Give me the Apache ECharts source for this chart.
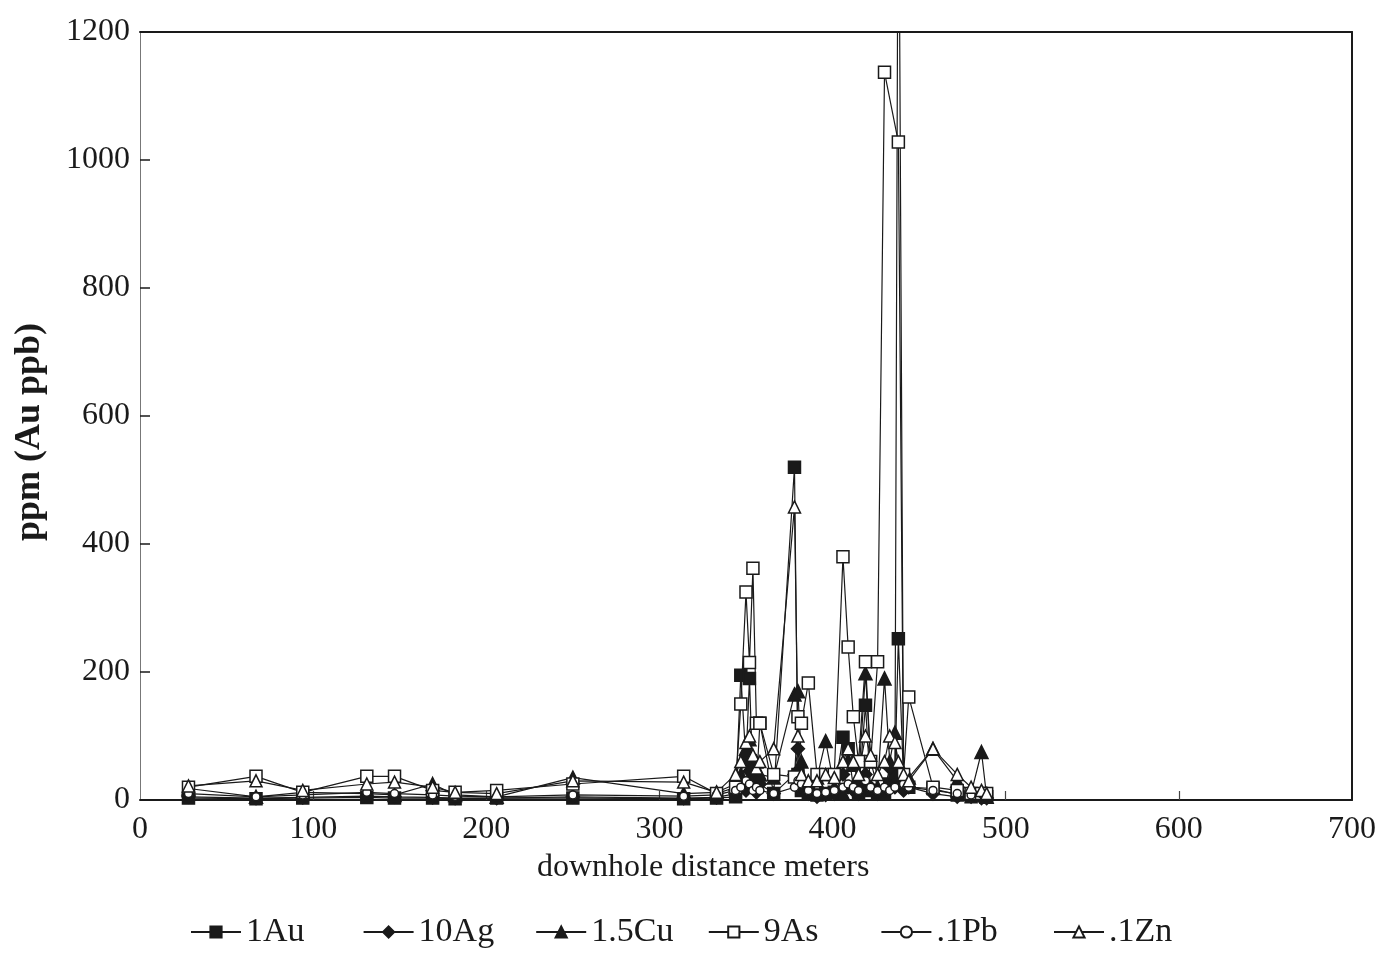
<!DOCTYPE html>
<html>
<head>
<meta charset="utf-8">
<script src="https://cdn.jsdelivr.net/npm/echarts@6/dist/echarts.min.js"></script>
<style>
  html, body { margin: 0; padding: 0; background: #ffffff; }
  #chart { width: 1380px; height: 953px; }
</style>
</head>
<body>
<div id="chart"></div>
<script>
// Downhole sample depths (m) shared by all assays
const depth = [28, 67, 94, 131, 147, 169, 182, 206, 250, 314, 333, 344, 347, 350, 352, 354, 356, 358, 366, 378, 380, 382, 386, 391, 396, 401, 406, 409, 412, 415, 419, 422, 426, 430, 433, 436, 438, 441, 444, 458, 472, 480, 486, 489];

// Scaled assay values (null = no sample for that element)
const au = [3, 2, 3, 4, 3, 3, 2, 3, 3, 2, 3, 5, 195, 60, 190, 30, 20, 120, 10, 520, 40, 15, 10, 8, 10, 12, 98, 80, 20, 10, 148, 15, 10, 12, 25, 40, 252, 30, 20, 18, 8, 5, 8, 5];
const ag = [5, 3, 4, 6, 5, 4, 3, 3, 5, 3, 4, 10, 30, 15, 45, 20, 12, 25, 10, 40, 80, 20, 10, 5, 8, 10, 40, 20, 15, 10, 40, 20, 10, 15, 50, 20, 30, 15, 20, 10, 5, 5, 3, 3];
const cu = [18, 5, 12, 10, 8, 25, 8, 5, 35, 10, 12, 25, 40, 80, 95, 30, 60, 40, 35, 165, 170, 60, 20, 35, 92, 20, 10, 62, 55, 30, 198, 60, 20, 190, 60, 105, 40, 30, 35, 80, 30, 10, 75, 5];
const as = [20, 37, 12, 37, 37, 15, 12, 15, 25, 37, 10, 20, 150, 325, 215, 362, 120, 120, 40, 36, 130, 120, 183, 40, 40, 40, 380, 239, 130, 60, 216, 60, 216, 1137, null, null, 1028, 40, 161, 20, 15, 10, 10, 10];
const pb = [10, 5, 8, 12, 10, 8, 6, 5, 8, 6, 8, 15, 20, 30, 25, 15, 20, 15, 10, 20, 30, 25, 15, 10, 12, 15, 20, 25, 20, 15, 30, 20, 15, 20, 15, 20, 1600, 25, 20, 15, 10, 8, 10, 5];
const zn = [22, 30, 15, 25, 28, 20, 12, 10, 30, 28, 12, 40, 60, 90, 100, 70, 50, 60, 80, 458, 100, 40, 30, 30, 40, 35, 60, 80, 60, 40, 100, 70, 40, 60, 100, 90, 60, 40, 30, 80, 40, 20, 15, 10];

const xTicks = [0, 100, 200, 300, 400, 500, 600, 700];
const yTicks = [0, 200, 400, 600, 800, 1000, 1200];
const legendNames = ['1Au', '10Ag', '1.5Cu', '9As', '.1Pb', '.1Zn'];

const serif = '"Liberation Serif", "DejaVu Serif", serif';
const ink = '#1a1a1a';

function pairs(vals) {
  return depth.map((d, i) => [d, vals[i]]);
}

function mkSeries(name, vals, symbol, filled, size) {
  return {
    name: name,
    type: 'line',
    data: pairs(vals),
    connectNulls: true,
    clip: true,
    symbol: symbol,
    symbolSize: size,
    showAllSymbol: true,
    lineStyle: { color: ink, width: 1.2 },
    itemStyle: {
      color: filled ? ink : '#ffffff',
      borderColor: ink,
      borderWidth: 1.5
    },
    emphasis: { disabled: true },
    animation: false
  };
}

// one legend block per element, evenly spaced along the bottom
const legendSlot = 172.6;
const legends = legendNames.map((name, i) => ({
  left: 185 + i * legendSlot,
  top: 910,
  itemWidth: 50,
  itemHeight: 14,
  itemGap: 0,
  selectedMode: false,
  textStyle: { color: ink, fontFamily: serif, fontSize: 34, padding: [0, 0, 0, 0] },
  data: [name]
}));

const chart = echarts.init(document.getElementById('chart'), null, { renderer: 'canvas' });

chart.setOption({
  backgroundColor: '#ffffff',
  animation: false,
  grid: { left: 140, right: 28, top: 32, bottom: 153, containLabel: false },
  xAxis: [
    {
      type: 'value', min: 0, max: 700, interval: 100,
      axisLine: { show: true, lineStyle: { color: ink, width: 2 } },
      axisTick: { show: true, inside: true, length: 9, lineStyle: { color: '#444', width: 1.2 },
                  customValues: xTicks.slice(1, -1) },
      axisLabel: { color: ink, fontFamily: serif, fontSize: 32, margin: 14,
                   customValues: xTicks, formatter: v => String(v) },
      splitLine: { show: false }
    },
    {
      type: 'value', min: 0, max: 700, position: 'top',
      axisLine: { show: true, onZero: false, lineStyle: { color: ink, width: 2 } },
      axisTick: { show: false }, axisLabel: { show: false }, splitLine: { show: false }
    }
  ],
  yAxis: [
    {
      type: 'value', min: 0, max: 1200, interval: 200,
      axisLine: { show: true, lineStyle: { color: '#777', width: 1 } },
      axisTick: { show: true, inside: true, length: 10, lineStyle: { color: ink, width: 1.5 },
                  customValues: yTicks },
      axisLabel: { color: ink, fontFamily: serif, fontSize: 32, margin: 10,
                   customValues: yTicks, formatter: v => String(v) },
      splitLine: { show: false }
    },
    {
      type: 'value', min: 0, max: 1200, position: 'right',
      axisLine: { show: true, onZero: false, lineStyle: { color: ink, width: 2 } },
      axisTick: { show: false }, axisLabel: { show: false }, splitLine: { show: false }
    }
  ],
  legend: legends,
  graphic: [
    {
      type: 'text',
      left: 537, top: 852,
      style: { text: 'downhole distance meters', fill: ink, font: '32px ' + serif }
    },
    {
      type: 'text',
      x: 12, y: 432,
      rotation: Math.PI / 2,
      style: { text: 'ppm (Au ppb)', fill: ink, font: 'bold 36px ' + serif, align: 'center' }
    }
  ],
  series: [
    mkSeries('1Au', au, 'rect', true, 12),
    mkSeries('10Ag', ag, 'diamond', true, 13),
    mkSeries('1.5Cu', cu, 'triangle', true, 13),
    mkSeries('9As', as, 'rect', false, 12),
    mkSeries('.1Pb', pb, 'circle', false, 8),
    mkSeries('.1Zn', zn, 'triangle', false, 12)
  ]
});
</script>
</body>
</html>
